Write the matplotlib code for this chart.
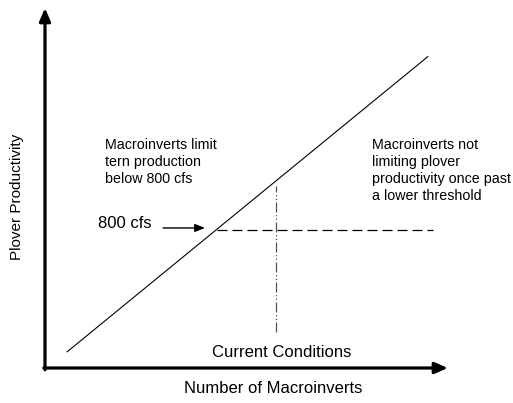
import matplotlib
matplotlib.use("Agg")
import matplotlib.pyplot as plt

plt.rcParams['font.family'] = ['Liberation Sans', 'DejaVu Sans']

# conceptual relationship (schematic units 0-10)
macro = [0.55, 9.5]           # number of macroinverts
productivity = [0.45, 8.65]   # plover productivity
threshold_y = 3.83            # 800 cfs level
threshold_x = [4.27, 9.63]
current_x = 5.73              # current conditions
current_y = [1.0, 5.06]

fig = plt.figure(figsize=(5.13, 4.03), dpi=100)
ax = fig.add_axes([45/513, 35/403, 403/513, 360/403])
ax.set_xlim(0, 10)
ax.set_ylim(0, 10)
ax.axis('off')

# axes drawn as arrows
arrow = dict(arrowstyle='-|>,head_length=0.7,head_width=0.3', lw=2.3, color='black',
             shrinkA=0, shrinkB=0, mutation_scale=11)
ax.annotate('', xy=(0, 10), xytext=(0, -0.05), arrowprops=arrow, annotation_clip=False)
ax.annotate('', xy=(10, 0), xytext=(-0.03, 0), arrowprops=arrow, annotation_clip=False)

ax.plot(macro, productivity, color='black', lw=0.8)
ax.plot(threshold_x, [threshold_y, threshold_y], color='black', lw=0.9, ls=(0, (8, 4)))
ax.plot([current_x, current_x], current_y, color='#555555', lw=0.9, ls=(0, (8, 2, 1, 2, 1, 2)))

ax.annotate('', xy=(3.97, 3.89), xytext=(2.93, 3.89),
            arrowprops=dict(arrowstyle='-|>,head_length=0.5,head_width=0.2', lw=1,
                            color='black', shrinkA=0, shrinkB=0, mutation_scale=12))
ax.text(1.32, 4.0, '800 cfs', fontsize=12, va='center', ha='left')

ax.text(1.49, 6.38, 'Macroinverts limit\ntern production\nbelow 800 cfs',
        fontsize=10.3, va='top', ha='left', linespacing=1.27)
ax.text(8.11, 6.38, 'Macroinverts not\nlimiting plover\nproductivity once past\na lower threshold',
        fontsize=10.3, va='top', ha='left', linespacing=1.27)

ax.text(5.88, 0.42, 'Current Conditions', fontsize=12, ha='center', va='center')
ax.text(5.66, -0.58, 'Number of Macroinverts', fontsize=12, ha='center', va='center', clip_on=False)
ax.text(-0.69, 4.75, 'Plover Productivity', fontsize=11, rotation=90, ha='center', va='center',
        clip_on=False)

fig.savefig('out.png', dpi=100)
